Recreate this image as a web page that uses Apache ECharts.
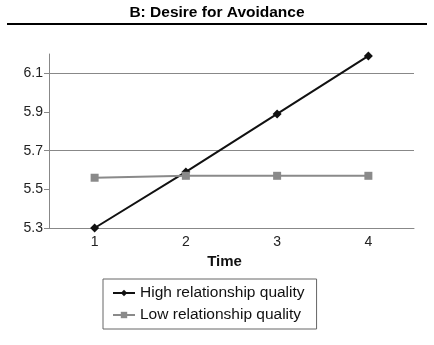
<!DOCTYPE html>
<html><head><meta charset="utf-8">
<script src="https://cdn.jsdelivr.net/npm/echarts@6/dist/echarts.min.js"></script>
<style>html,body{margin:0;padding:0;background:#fff}#c{width:434px;height:345px}</style>
</head><body><div id="c"></div>
<script>
const categories = ['1', '2', '3', '4'];
const highQuality = [5.30, 5.59, 5.89, 6.19];
const lowQuality = [5.56, 5.57, 5.57, 5.57];
const yTickLabels = ['5.3', '5.5', '5.7', '5.9', '6.1'];
const seriesNames = ['High relationship quality', 'Low relationship quality'];
const titleText = 'B: Desire for Avoidance';
const xName = 'Time';

const font = 'Liberation Sans, Arial, Helvetica, sans-serif';
const chart = echarts.init(document.getElementById('c'));
chart.setOption({
  animation: false,
  backgroundColor: '#fff',
  title: {
    text: titleText, left: 'center', top: 5, padding: 0,
    textStyle: { fontFamily: font, fontSize: 15.5, fontWeight: 'bold', color: '#000' }
  },
  graphic: [{
    type: 'line', shape: { x1: 7, y1: 24, x2: 427, y2: 24 },
    style: { stroke: '#000', lineWidth: 2 }
  }],
  grid: { left: 49, right: 20, top: 54, bottom: 117 },
  legend: {
    orient: 'vertical', left: 103, top: 279,
    padding: [5, 12, 5, 9], itemGap: 4,
    itemWidth: 22, itemHeight: 8,
    borderColor: '#666', borderWidth: 1,
    textStyle: { fontFamily: font, fontSize: 15.5, lineHeight: 18, color: '#111' },
    data: seriesNames
  },
  xAxis: {
    type: 'category', data: categories, boundaryGap: true,
    name: xName, nameLocation: 'middle', nameGap: 19,
    nameTextStyle: { fontFamily: font, fontSize: 15, fontWeight: 'bold', color: '#111', padding: [0, 14, 0, 0] },
    axisLine: { lineStyle: { color: '#888', width: 1 } },
    axisTick: { inside: true, length: 3, lineStyle: { color: '#888' } },
    axisLabel: { fontFamily: font, fontSize: 14, color: '#222', margin: 7 },
    splitLine: { show: false }
  },
  yAxis: {
    type: 'value', min: 5.3, max: 6.2, interval: 0.1,
    axisLine: { show: true, lineStyle: { color: '#888', width: 1 } },
    axisTick: { show: true, length: 5, customValues: yTickLabels.map(Number), lineStyle: { color: '#888' } },
    axisLabel: {
      fontFamily: font, fontSize: 14, color: '#222', margin: 6,
      formatter: v => yTickLabels.includes(v.toFixed(1)) ? v.toFixed(1) : ''
    },
    splitLine: { show: true, lineStyle: { color: ['#888', 'rgba(0,0,0,0)'], width: 1 } }
  },
  series: [
    {
      name: seriesNames[0], type: 'line', data: highQuality,
      symbol: 'diamond', symbolSize: 9,
      lineStyle: { color: '#111', width: 2 },
      itemStyle: { color: '#111' }
    },
    {
      name: seriesNames[1], type: 'line', data: lowQuality,
      symbol: 'rect', symbolSize: 8,
      lineStyle: { color: '#8a8a8a', width: 2 },
      itemStyle: { color: '#8a8a8a' }
    }
  ]
});
</script></body></html>
